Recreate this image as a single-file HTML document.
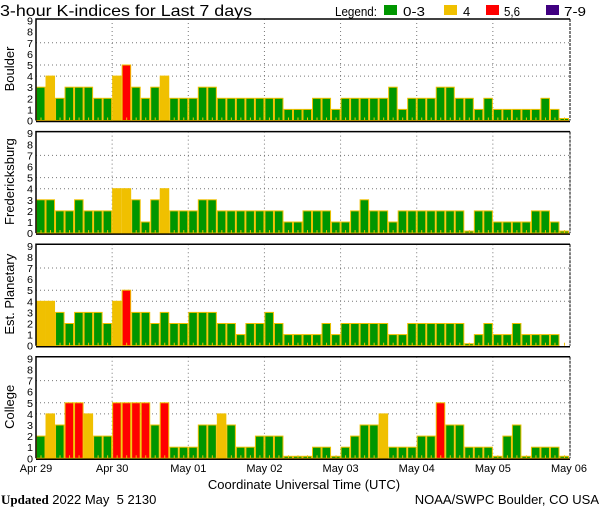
<!DOCTYPE html>
<html><head><meta charset="utf-8">
<style>
html,body{margin:0;padding:0;background:#fff;}
svg{display:block;}
text{font-family:"Liberation Sans",sans-serif;fill:#000;}
</style></head>
<body>
<svg id="chart" width="600" height="510" viewBox="0 0 600 510" xmlns="http://www.w3.org/2000/svg">
<rect width="600" height="510" fill="#fff"/>
<text x="0" y="16" font-size="16" textLength="252" lengthAdjust="spacingAndGlyphs">3-hour K-indices for Last 7 days</text>
<g font-size="13">
<text x="335" y="16" textLength="42" lengthAdjust="spacingAndGlyphs">Legend:</text>
<rect x="384" y="5" width="13" height="10" fill="#009600"/>
<text x="403" y="16" textLength="22" lengthAdjust="spacingAndGlyphs">0-3</text>
<rect x="444" y="5" width="13" height="10" fill="#f0c000"/>
<text x="463" y="16">4</text>
<rect x="486" y="5" width="13" height="10" fill="#ff0000"/>
<text x="504" y="16" textLength="16" lengthAdjust="spacingAndGlyphs">5,6</text>
<rect x="546" y="5" width="13" height="10" fill="#400080"/>
<text x="564" y="16" textLength="22" lengthAdjust="spacingAndGlyphs">7-9</text>
</g>
<g id="panels"></g>
<text x="304" y="489" font-size="13" text-anchor="middle">Coordinate Universal Time (UTC)</text>
<text x="1" y="504" font-size="13" xml:space="preserve"><tspan font-family="Liberation Serif, serif" font-weight="bold">Updated</tspan> 2022 May  5 2130</text>
<text x="599" y="504" font-size="13" text-anchor="end">NOAA/SWPC Boulder, CO USA</text>
</svg>
<script>
const stations = ["Boulder","Fredericksburg","Est. Planetary","College"];
const boulder = [3,4,2,3,3,3,2,2, 4,5,3,2,3,4,2,2, 2,3,3,2,2,2,2,2, 2,2,1,1,1,2,2,1, 2,2,2,2,2,3,1,2, 2,2,3,3,2,2,1,2, 1,1,1,1,1,2,1,0];
const fredericksburg = [3,3,2,2,3,2,2,2, 4,4,3,1,3,4,2,2, 2,3,3,2,2,2,2,2, 2,2,1,1,2,2,2,1, 1,2,3,2,2,1,2,2, 2,2,2,2,2,0,2,2, 1,1,1,1,2,2,1,0];
const planetary = [4,4,3,2,3,3,3,2, 4,5,3,3,2,3,2,2, 3,3,3,2,2,1,2,2, 3,2,1,1,1,1,2,1, 2,2,2,2,2,1,1,2, 2,2,2,2,2,0,1,2, 1,1,2,1,1,1,1,null];
const college = [2,4,3,5,5,4,2,2, 5,5,5,5,3,5,1,1, 1,3,3,4,3,1,1,2, 2,2,0,0,0,1,1,0, 1,2,3,3,4,1,1,1, 2,2,5,3,3,1,1,1, 0,2,3,0,1,1,1,0];
const seriesList = [boulder,fredericksburg,planetary,college];
const dayLabels = ["Apr 29","Apr 30","May 01","May 02","May 03","May 04","May 05","May 06"];
const yTicks = [0,1,2,3,4,5,6,7,8,9];
const gridLevels = [4,5,7];

const NS="http://www.w3.org/2000/svg";
const X0=36, X1=569, N=56, BW=(X1-X0)/N, UNIT=11.1;
const xPos = i => X0 + i*BW;
const dayX = d => X0 + d*8*BW;
function mk(tag, attrs, parent){const e=document.createElementNS(NS,tag);for(const k in attrs)e.setAttribute(k,attrs[k]);parent.appendChild(e);return e;}
function color(v){return v>=7?"#400080":v>=5?"#ff0000":v>=4?"#f0c000":"#009600";}
const root=document.getElementById("panels");
stations.forEach((name,p)=>{
  const top=19+p*112.6, zero=top+101.5;
  const yPos = v => zero - v*UNIT;
  const g=mk("g",{},root);
  
  
  gridLevels.forEach(l=>{
    const ln=mk("line",{x1:X0,x2:X1,y1:yPos(l),y2:yPos(l),stroke:"#777","stroke-dasharray":"1,3"},g);
    
    
  });
  for(let d=1;d<7;d++){
    const ln=mk("line",{x1:dayX(d),x2:dayX(d),y1:top,y2:zero,stroke:"#777","stroke-dasharray":"1,3"},g);
    
    
  }
  seriesList[p].forEach((v,i)=>{
    if(v!==null){
      const h=Math.max(v*UNIT,2);
      const b=mk("rect",{x:xPos(i)+0.5,y:zero-h,width:BW-1,height:h,fill:color(v),stroke:"#f0c000","stroke-width":1},g);
      
      
    }
    const t=mk("rect",{x:xPos(i)+4.5,y:zero-3,width:1,height:3,fill:"#f0c000"},g);
    
    
  });
  const fr=mk("path",{d:`M${X0},${zero} L${X0},${top} L${X1+1},${top}`,fill:"none",stroke:"#000","stroke-width":1.5},g);
  
  
  const rt=mk("line",{x1:X1+1,x2:X1+1,y1:top,y2:zero,stroke:"#000","stroke-dasharray":"3,1"},g);
  
  
  const bt=mk("line",{x1:X0,x2:X1+1,y1:zero+1,y2:zero+1,stroke:"#000","stroke-width":1.5},g);
  
  
  yTicks.forEach(v=>{
    const tx=mk("text",{x:33,y:yPos(v)+4,"font-size":10,"text-anchor":"end",textLength:6,lengthAdjust:"spacingAndGlyphs"},g);
    tx.textContent=v;
    
    
  });
  const lb=mk("text",{x:0,y:0,"font-size":13,"text-anchor":"middle",transform:`translate(14,${top+50}) rotate(-90)`},g);
  lb.textContent=name;
  
  
});
dayLabels.forEach((d,k)=>{
  const t=mk("text",{x:dayX(k),y:472,"font-size":11,"text-anchor":"middle"},root);
  t.textContent=d;
  
  
});
</script>
</body></html>
